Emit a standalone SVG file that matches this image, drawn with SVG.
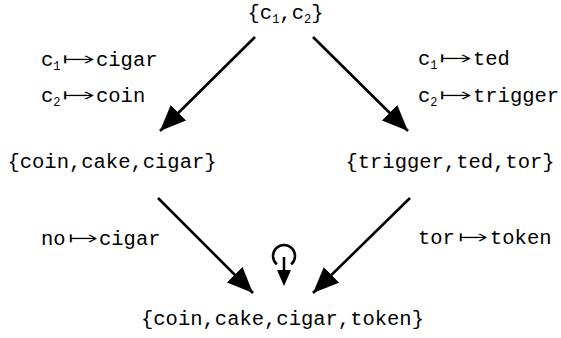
<svg xmlns="http://www.w3.org/2000/svg" width="561" height="338" viewBox="0 0 561 338">
<defs>
<style>
.t{font-family:"Liberation Mono","DejaVu Sans Mono",monospace;font-size:20.5px;fill:#000}
.n{text-anchor:middle}
.sub{font-size:12px}
.map{font-family:"DejaVu Sans",sans-serif;font-size:21px;stroke:#fff;stroke-width:0.6px}
.e{stroke:#000;stroke-width:2.6;fill:none;marker-end:url(#ah)}
</style>
<marker id="ah" markerUnits="userSpaceOnUse" markerWidth="28" markerHeight="22" refX="26" refY="11" orient="auto">
<path d="M0,0 L26,11 L0,22 z" fill="#000"/>
</marker>
</defs>
<rect width="561" height="338" fill="#fff"/>
<g id="n-top"><text class="t n" x="285.5" y="19">{c<tspan class="sub" dy="4">1</tspan><tspan dy="-4">,c</tspan><tspan class="sub" dy="4">2</tspan><tspan dy="-4">}</tspan></text></g>
<g id="n-left"><text class="t n" x="112" y="168">{coin,cake,cigar}</text></g>
<g id="n-right"><text class="t n" x="450" y="168">{trigger,ted,tor}</text></g>
<g id="n-bottom"><text class="t n" x="282.5" y="325">{coin,cake,cigar,token}</text></g>
<g id="loop">
<path d="M276.9,264.4 A11,11 0 1 1 291.1,264.4" stroke="#000" stroke-width="2.5" fill="none"/>
<path d="M284,257 V272" stroke="#000" stroke-width="2.5"/>
<path d="M277,270 L291,270 L284,286 z" fill="#000"/>
</g>
<g id="connectors">
<path class="e" d="M255,37 L160,131"/>
<path class="e" d="M313,37 L408,131"/>
<path class="e" d="M158,198 L253,293"/>
<path class="e" d="M410,198 L313,293"/>
</g>
<g id="labels">
<text class="t" x="41" y="66">c<tspan class="sub" dy="4">1</tspan><tspan class="map" dy="-4" x="61" textLength="35" lengthAdjust="spacingAndGlyphs">↦</tspan><tspan x="96">cigar</tspan></text>
<text class="t" x="41" y="102">c<tspan class="sub" dy="4">2</tspan><tspan class="map" dy="-4" x="61" textLength="35" lengthAdjust="spacingAndGlyphs">↦</tspan><tspan x="96">coin</tspan></text>
<text class="t" x="418" y="65">c<tspan class="sub" dy="4">1</tspan><tspan class="map" dy="-4" x="438" textLength="35" lengthAdjust="spacingAndGlyphs">↦</tspan><tspan x="473">ted</tspan></text>
<text class="t" x="418" y="102">c<tspan class="sub" dy="4">2</tspan><tspan class="map" dy="-4" x="438" textLength="35" lengthAdjust="spacingAndGlyphs">↦</tspan><tspan x="473">trigger</tspan></text>
<text class="t" x="41" y="245">no<tspan class="map" x="67" textLength="32" lengthAdjust="spacingAndGlyphs">↦</tspan><tspan x="99">cigar</tspan></text>
<text class="t" x="418" y="244">tor<tspan class="map" x="457" textLength="32" lengthAdjust="spacingAndGlyphs">↦</tspan><tspan x="490">token</tspan></text>
</g>
</svg>
